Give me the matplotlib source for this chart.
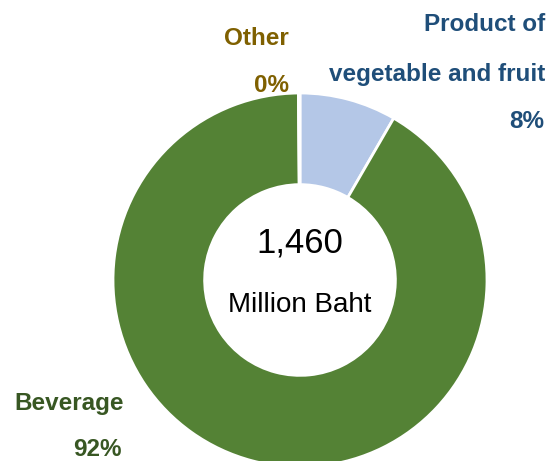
import matplotlib
matplotlib.use('Agg')
import matplotlib.pyplot as plt

# values in million baht (total 1,460)
categories = ['Product of\nvegetable and fruit', 'Beverage', 'Other']
values = [122, 1336, 2]
pct_labels = ['8%', '92%', '0%']
colors = ['#B4C7E7', '#548235', '#BF9000']
label_colors = ['#1F4E79', '#385723', '#7F6000']
total_text = '1,460'
unit_text = 'Million Baht'

W, H = 549, 461
cx, cy, R = 300, 280, 187

fig = plt.figure(figsize=(W / 100, H / 100), dpi=100)
ax = fig.add_axes([0, 0, 1, 1])
ax.pie(values, colors=colors, startangle=90, counterclock=False, radius=1,
       wedgeprops=dict(width=0.49, edgecolor='white', linewidth=2))
ax.set_xlim(-cx / R, (W - cx) / R)
ax.set_ylim(-(H - cy) / R, cy / R)
ax.set_aspect('equal')
ax.axis('off')

font = 'Liberation Sans'
fs = 17.5

def px(x, y):
    return ((x - cx) / R, (cy - y) / R)

# centre text
ax.text(*px(300, 243), total_text, ha='center', va='center', fontsize=25, family=font)
ax.text(*px(300, 305), unit_text, ha='center', va='center', fontsize=20, family=font)

# outer labels
ax.text(*px(545, 24), 'Product of', ha='right', va='center', fontsize=fs,
        fontweight='bold', color=label_colors[0], family=font)
ax.text(*px(545, 74), 'vegetable and fruit', ha='right', va='center', fontsize=fs,
        fontweight='bold', color=label_colors[0], family=font)
ax.text(*px(544, 122), pct_labels[0], ha='right', va='center', fontsize=fs,
        fontweight='bold', color=label_colors[0], family=font)

ax.text(*px(289, 39), 'Other', ha='right', va='center', fontsize=fs,
        fontweight='bold', color=label_colors[2], family=font)
ax.text(*px(289, 85), pct_labels[2], ha='right', va='center', fontsize=fs,
        fontweight='bold', color=label_colors[2], family=font)

ax.text(*px(14, 403), 'Beverage', ha='left', va='center', fontsize=fs,
        fontweight='bold', color=label_colors[1], family=font)
ax.text(*px(122, 449), pct_labels[1], ha='right', va='center', fontsize=fs,
        fontweight='bold', color=label_colors[1], family=font)

fig.savefig('out.png', dpi=100)
